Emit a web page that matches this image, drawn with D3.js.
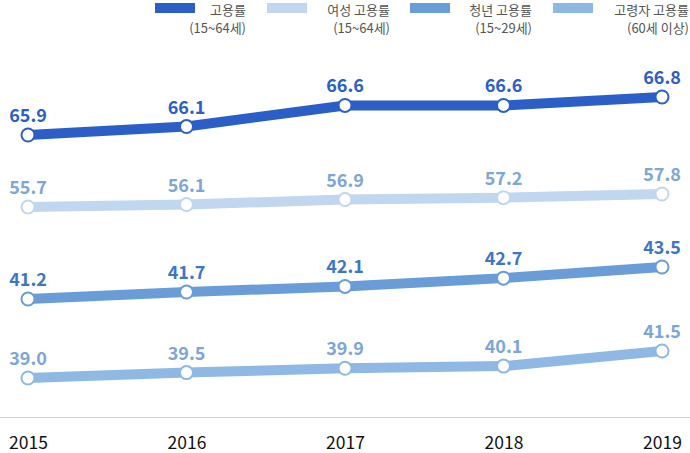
<!DOCTYPE html>
<html><head><meta charset="utf-8">
<script src="https://cdn.jsdelivr.net/npm/d3@7"></script>
<style>body{margin:0;background:#fff}svg{display:block;font-family:"Noto Sans CJK KR","Noto Sans",sans-serif}</style>
</head><body><svg id="c" width="690" height="453"></svg>
<script>
const years = ["2015","2016","2017","2018","2019"];
const seriesNames = ["고용률","여성 고용률","청년 고용률","고령자 고용률"];
const seriesSub = ["(15~64세)","(15~64세)","(15~29세)","(60세 이상)"];
const total = [65.9,66.1,66.6,66.6,66.8];
const women = [55.7,56.1,56.9,57.2,57.8];
const youth = [41.2,41.7,42.1,42.7,43.5];
const elderly = [39.0,39.5,39.9,40.1,41.5];

const W=690,H=453;
const svg=d3.select("#c");
const x=d3.scalePoint().domain(years).range([28,662]);
const series=[
 {vals:total, line:"#2b5fc7", label:"#2b5fc7", yr:[135,97]},
 {vals:women, line:"#c1d6ef", label:"#7ea6d6", yr:[207,194]},
 {vals:youth, line:"#6a9cd7", label:"#3d76c6", yr:[299,267]},
 {vals:elderly, line:"#8fb8e4", label:"#7aa6da", yr:[378,351]}
];
// baseline axis
svg.append("line").attr("x1",0).attr("x2",W).attr("y1",417.5).attr("y2",417.5).attr("stroke","#cfcfcf").attr("stroke-width",1);
const xa=svg.append("g").attr("transform","translate(0,417)").call(d3.axisBottom(x).tickSize(0));
xa.select(".domain").remove();
xa.selectAll(".tick text").attr("y",32).attr("dy",0).attr("font-size",17.5).attr("fill","#111")
  .attr("font-family","'Noto Sans CJK KR',sans-serif").attr("text-anchor","middle");

series.forEach(s=>{
  const y=d3.scaleLinear().domain([d3.min(s.vals),d3.max(s.vals)]).range(s.yr);
  const g=svg.append("g");
  g.append("path").datum(s.vals).attr("fill","none").attr("stroke",s.line).attr("stroke-width",10)
   .attr("d",d3.line().x((d,i)=>x(years[i])).y(d=>y(d)));
  g.selectAll("circle").data(s.vals).join("circle").attr("cx",(d,i)=>x(years[i])).attr("cy",d=>y(d)).attr("r",6.5)
   .attr("fill","#fff").attr("stroke",s.line).attr("stroke-width",2);
  g.selectAll("text").data(s.vals).join("text").attr("x",(d,i)=>x(years[i])).attr("y",d=>y(d)-13)
   .attr("text-anchor","middle").attr("font-size",18).attr("font-weight","bold").attr("fill",s.label).text(d=>d.toFixed(1));
});

// legend
const legX=[155,267,410,553], textEnd=[246,390,532,689];
series.forEach((s,i)=>{
  svg.append("rect").attr("x",legX[i]).attr("y",3).attr("width",40).attr("height",10).attr("fill",s.line);
  svg.append("text").attr("x",textEnd[i]).attr("y",14.5).attr("text-anchor","end").attr("font-size",13).attr("fill","#555").text(seriesNames[i]);
  svg.append("text").attr("x",textEnd[i]).attr("y",33).attr("text-anchor","end").attr("font-size",13).attr("fill","#555").text(seriesSub[i]);
});
</script></body></html>
